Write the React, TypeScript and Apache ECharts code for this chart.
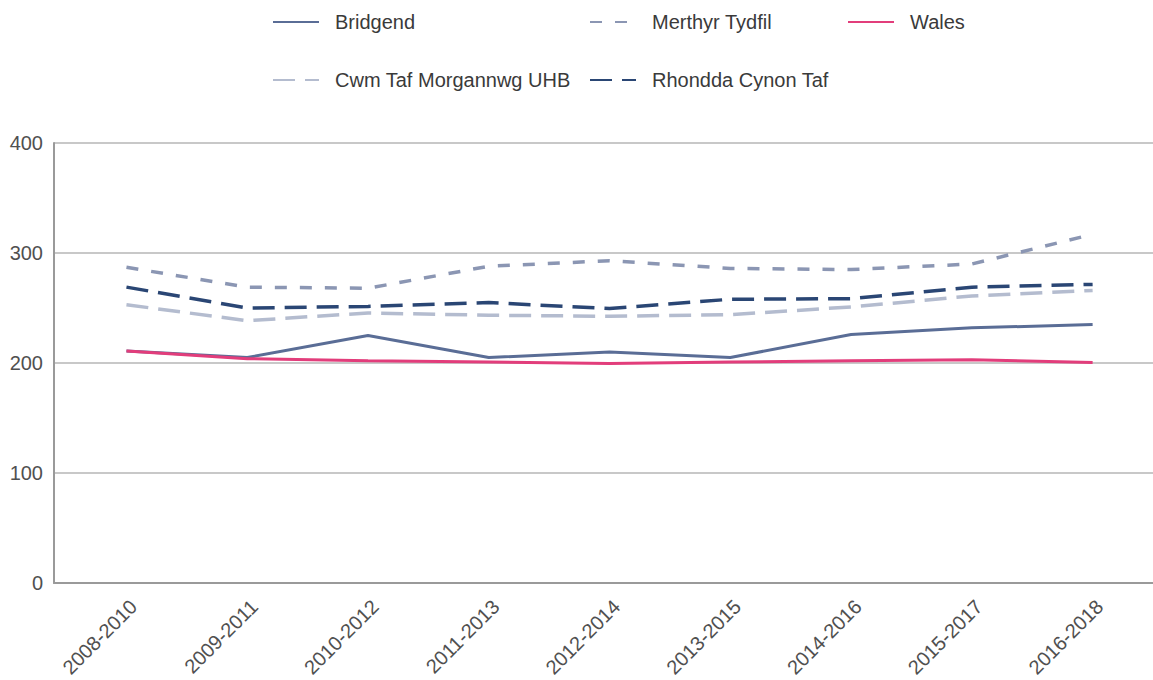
import React, { useEffect, useRef } from "react";
import * as echarts from "echarts";

const categories = [
  "2008-2010", "2009-2011", "2010-2012", "2011-2013", "2012-2014",
  "2013-2015", "2014-2016", "2015-2017", "2016-2018",
];
const bridgend = [211, 205, 225, 205, 210, 205, 226, 232, 235];
const merthyrTydfil = [287, 269, 268, 288, 293, 286, 285, 290, 317];
const wales = [211, 204, 202, 201, 199.5, 201, 202, 203, 200.5];
const cwmTaf = [253, 238.5, 245.5, 243.5, 242.5, 244, 251, 261, 266];
const rhondda = [269, 250, 251.5, 255, 249.5, 258, 258.5, 269, 271.5];
const yTicks = [0, 100, 200, 300, 400];

const FONT = "'Liberation Sans', Arial, Helvetica, sans-serif";

const toPairs = (arr: number[]) => arr.map((v, i) => [i, v]);

export default function App() {
  const ref = useRef<HTMLDivElement>(null);
  useEffect(() => {
    if (!ref.current) return;
    document.body.style.margin = "0";
    const chart = echarts.init(ref.current, null, { renderer: "svg", width: 1153, height: 680 });
    const legendText = {
      fontFamily: FONT,
      fontSize: 20,
      color: "#3a3a3a",
      lineHeight: 22,
      padding: [0, 0, 0, 11],
    };
    const legendBase = {
      orient: "vertical" as const,
      padding: 0,
      itemWidth: 46,
      itemHeight: 14,
      itemGap: 36,
      top: 11,
      textStyle: legendText,
      itemStyle: { opacity: 0 },
      selectedMode: false,
    };
    chart.setOption({
      animation: false,
      backgroundColor: "#ffffff",
      legend: [
        { ...legendBase, left: 272, data: ["Bridgend", "Cwm Taf Morgannwg UHB"] },
        { ...legendBase, left: 589, data: ["Merthyr Tydfil", "Rhondda Cynon Taf"] },
        { ...legendBase, left: 847, data: ["Wales"] },
      ],
      grid: { left: 54, right: 0, top: 143, height: 449.5, containLabel: false },
      xAxis: {
        type: "value",
        min: -0.6,
        max: 8.5,
        axisLine: { show: true, onZero: false, lineStyle: { color: "#9a9a9a", width: 2 } },
        axisTick: { show: false },
        splitLine: { show: false },
        axisLabel: {
          customValues: categories.map((_, i) => i),
          formatter: (v: number) => categories[Math.round(v)] ?? "",
          rotate: 45,
          margin: 13,
          verticalAlign: "top",
          fontFamily: FONT,
          fontSize: 20,
          color: "#505050",
        },
      },
      yAxis: {
        type: "value",
        min: yTicks[0],
        max: yTicks[yTicks.length - 1],
        interval: 100,
        axisLine: { show: true, onZero: false, lineStyle: { color: "#9a9a9a", width: 2 } },
        axisTick: { show: false },
        splitLine: { show: true, lineStyle: { color: "#c8c8c8", width: 2 } },
        axisLabel: {
          margin: 11,
          fontFamily: FONT,
          fontSize: 20,
          color: "#505050",
        },
      },
      series: [
        {
          name: "Bridgend",
          type: "line",
          symbol: "none",
          data: toPairs(bridgend),
          color: "#5a6d96",
          lineStyle: { width: 3, color: "#5a6d96" },
        },
        {
          name: "Merthyr Tydfil",
          type: "line",
          symbol: "none",
          data: toPairs(merthyrTydfil),
          color: "#8b96b3",
          lineStyle: { width: 3.5, color: "#8b96b3", type: [12, 13] },
        },
        {
          name: "Cwm Taf Morgannwg UHB",
          type: "line",
          symbol: "none",
          data: toPairs(cwmTaf),
          color: "#b4bccf",
          lineStyle: { width: 3.5, color: "#b4bccf", type: [22, 10] },
        },
        {
          name: "Rhondda Cynon Taf",
          type: "line",
          symbol: "none",
          data: toPairs(rhondda),
          color: "#2a4674",
          lineStyle: { width: 3.5, color: "#2a4674", type: [22, 10] },
        },
        {
          name: "Wales",
          type: "line",
          symbol: "none",
          data: toPairs(wales),
          color: "#e23d7b",
          lineStyle: { width: 3, color: "#e23d7b" },
        },
      ],
    });
    return () => chart.dispose();
  }, []);
  return (
    <div
      ref={ref}
      style={{ width: 1153, height: 680, background: "#fff" }}
    />
  );
}
